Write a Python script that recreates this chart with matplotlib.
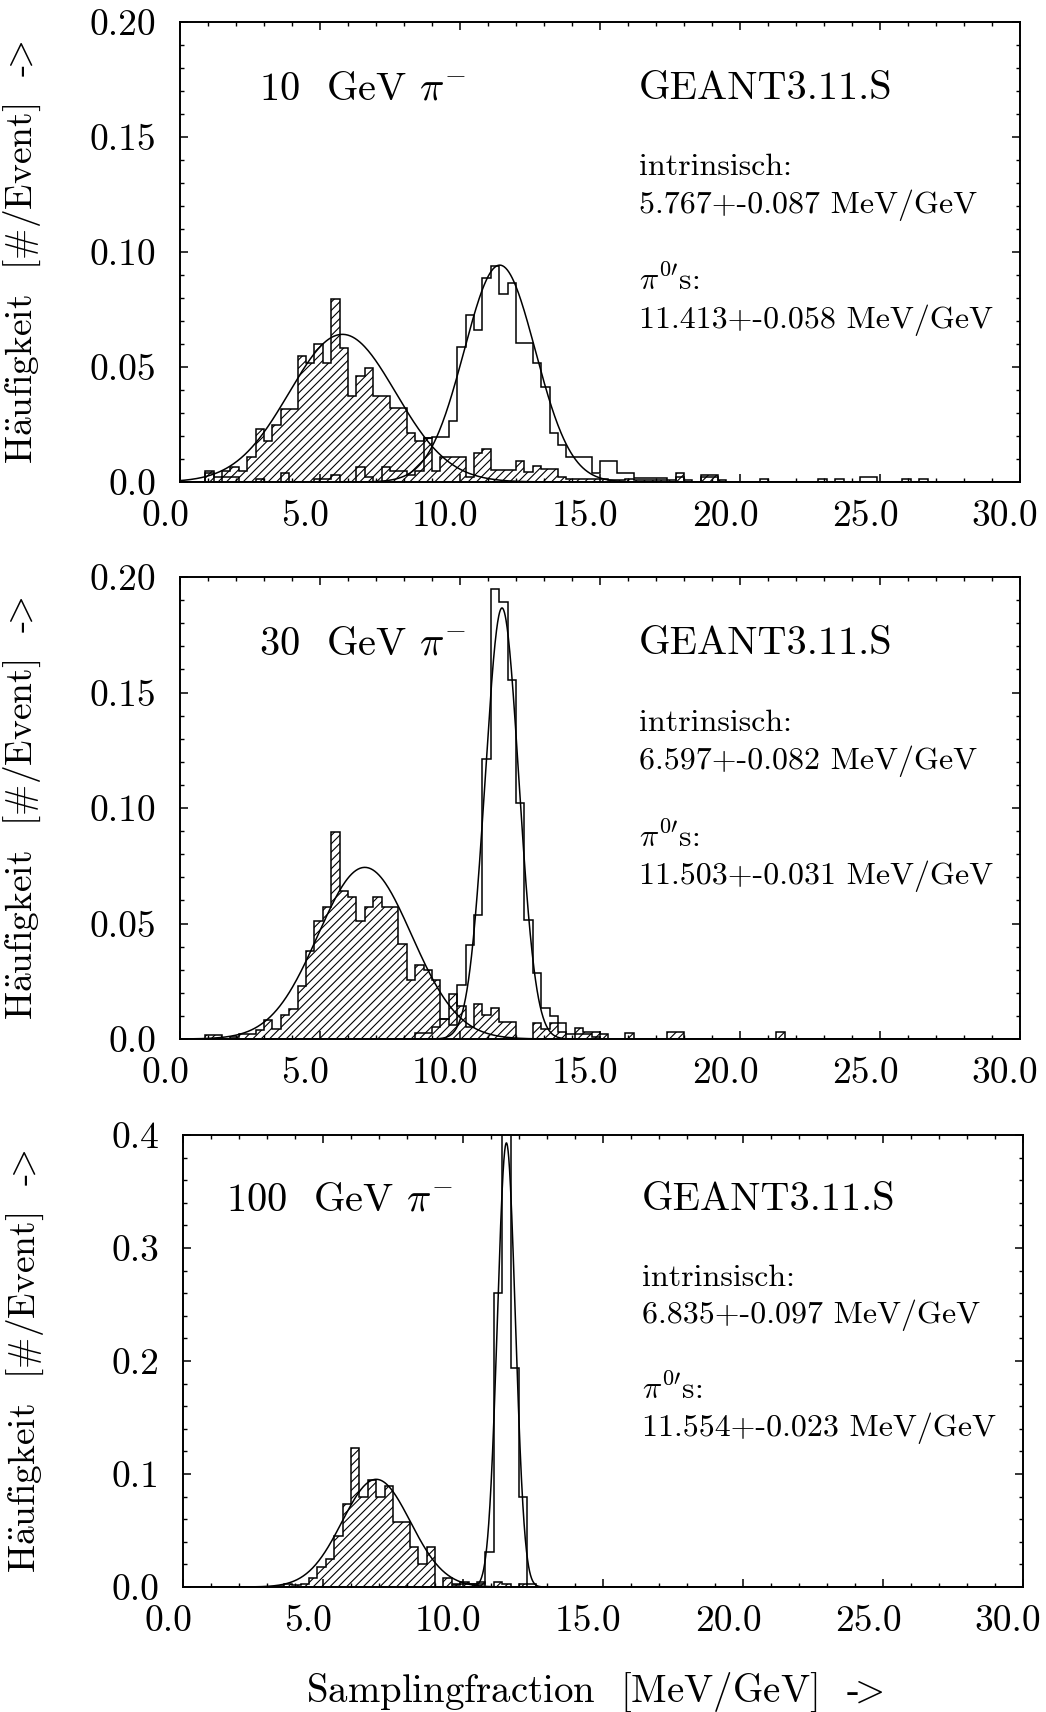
import numpy as np
import matplotlib
matplotlib.use("Agg")
import matplotlib.pyplot as plt
import matplotlib.transforms as mtransforms
from matplotlib.ticker import MultipleLocator, FuncFormatter

plt.rcParams['font.family'] = ['cmr10', 'DejaVu Serif']
plt.rcParams['mathtext.fontset'] = 'cm'
plt.rcParams['axes.formatter.use_mathtext'] = True
plt.rcParams['hatch.linewidth'] = 0.8
plt.rcParams['hatch.color'] = 'black'

# bins: 100 bins of 0.3 MeV/GeV from 0 to 30
bin_edges = np.linspace(0, 30, 101)

# 10 GeV
top_intr = [0, 0, 0, 0.005, 0.0023, 0.005, 0.0067, 0.005, 0.0107, 0.023,
            0.018, 0.0248, 0.0317, 0.0317, 0.055, 0.0516, 0.0599, 0.0516, 0.0796, 0.0584,
            0.0374, 0.046, 0.0497, 0.0374, 0.0374, 0.032, 0.032, 0.0214, 0.0178, 0.019,
            0.005, 0.0107, 0.0107, 0.0107, 0.0023, 0.0125, 0.0142, 0.0052, 0.0052, 0.0052,
            0.0093, 0.0042, 0.0071, 0.0055, 0.0055, 0.0023, 0.0015, 0.0015, 0.0015, 0.0015,
            0.0015, 0.001, 0.001, 0.0015, 0.001, 0.001, 0.001, 0.001, 0.001, 0.004,
            0, 0, 0.003, 0.003, 0.001]
top_pi0 = [0, 0, 0, 0.004, 0, 0.002, 0.002, 0, 0, 0.0015,
           0, 0, 0.0038, 0, 0, 0, 0.0015, 0.0015, 0.003, 0,
           0, 0.0067, 0.002, 0, 0.0067, 0.005, 0.005, 0.003, 0.005, 0.019,
           0.0197, 0.0197, 0.0267, 0.0586, 0.0726, 0.066, 0.0886, 0.0939, 0.0817, 0.0867,
           0.0606, 0.0606, 0.0516, 0.0414, 0.0214, 0.016, 0.011, 0.011, 0.011, 0.0038,
           0.0093, 0.0093, 0.004, 0.004, 0.0016, 0.0016, 0.0016, 0.0016, 0, 0.002,
           0.001, 0, 0.002, 0.002, 0, 0, 0, 0, 0, 0.0015,
           0, 0, 0, 0, 0, 0, 0.0015, 0, 0.0015, 0,
           0, 0.002, 0.002, 0, 0, 0, 0.0015, 0, 0.0015]

# 30 GeV
mid_intr = [0, 0, 0, 0.0019, 0.0019, 0, 0.001, 0.002, 0.002, 0.004,
            0.0084, 0.0045, 0.0105, 0.013, 0.0228, 0.0382, 0.051, 0.0571, 0.0895, 0.0639,
            0.0613, 0.051, 0.0571, 0.0615, 0.0571, 0.0571, 0.0413, 0.0257, 0.0322, 0.03,
            0.0257, 0.0087, 0.0195, 0.0145, 0.005, 0.0153, 0.0105, 0.0134, 0.0072, 0.0072,
            0, 0, 0.007, 0.0045, 0.007, 0.003, 0, 0.0048, 0.003, 0.003,
            0.002, 0, 0, 0.0026, 0, 0, 0, 0, 0.003, 0.003,
            0, 0, 0, 0, 0, 0, 0, 0, 0, 0,
            0, 0.003]
mid_pi0 = [0, 0, 0, 0, 0, 0, 0, 0, 0, 0,
           0, 0, 0, 0, 0, 0, 0, 0, 0, 0,
           0, 0, 0, 0, 0, 0, 0, 0, 0.0025, 0.0025,
           0.005, 0.0087, 0.006, 0.0235, 0.0408, 0.0538, 0.121, 0.195, 0.189, 0.1555,
           0.102, 0.0516, 0.0287, 0.0134, 0.010, 0.0069, 0.002, 0.002, 0.002, 0.001]

# 100 GeV
bot_intr = [0, 0, 0, 0, 0, 0, 0, 0, 0, 0,
            0, 0.001, 0.003, 0.002, 0.003, 0.008, 0.018, 0.0245, 0.0451, 0.0732,
            0.1227, 0.0794, 0.0947, 0.0794, 0.0894, 0.0572, 0.0572, 0.0357, 0.0204, 0.0357,
            0, 0.0083, 0.003, 0.0045, 0.003, 0.0045, 0, 0.0045, 0.003, 0,
            0.003]
bot_pi0 = [0, 0, 0, 0, 0, 0, 0, 0, 0, 0,
           0, 0, 0, 0, 0, 0, 0, 0, 0, 0,
           0, 0, 0, 0, 0, 0, 0, 0, 0, 0,
           0, 0, 0.002, 0.003, 0.003, 0.003, 0.031, 0.26, 0.42, 0.1935,
           0.08, 0.003]

# gaussian fits: (mean, sigma, height)
top_fits = [(5.8, 1.9, 0.0642), (11.42, 1.27, 0.0943)]
mid_fits = [(6.6, 1.67, 0.0743), (11.5, 0.6, 0.1866)]
bot_fits = [(6.9, 1.22, 0.0953), (11.55, 0.32, 0.393)]

energies = ['10', '30', '100']
intr_txt = ['5.767+-0.087 MeV/GeV', '6.597+-0.082 MeV/GeV', '6.835+-0.097 MeV/GeV']
pi0_txt = ['11.413+-0.058 MeV/GeV', '11.503+-0.031 MeV/GeV', '11.554+-0.023 MeV/GeV']

W, H = 1046, 1712
fig = plt.figure(figsize=(W / 100, H / 100), dpi=100)

# axes boxes in pixels: left, top, right, bottom
boxes = [(180, 22, 1020, 482), (180, 577, 1020, 1039), (183, 1135, 1023, 1587)]


def pad(v):
    v = np.array(v, dtype=float)
    return np.pad(v, (0, 100 - len(v)))


panels = [(top_intr, top_pi0, top_fits, 0.2, 0.05, 0.01),
          (mid_intr, mid_pi0, mid_fits, 0.2, 0.05, 0.01),
          (bot_intr, bot_pi0, bot_fits, 0.4, 0.1, 0.02)]

shift = mtransforms.ScaledTranslation(-0.15, 0, fig.dpi_scale_trans)

for i, (hi, hp, fits, ymax, ymaj, ymin) in enumerate(panels):
    l, t, r, b = boxes[i]
    ax = fig.add_axes([l / W, (H - b) / H, (r - l) / W, (b - t) / H])

    ax.stairs(pad(hi), bin_edges, fill=True, facecolor='none', edgecolor='black',
              hatch='////', linewidth=1.1)
    ax.stairs(pad(hp), bin_edges, color='black', linewidth=1.1)
    for mu, sig, h in fits:
        xs = np.linspace(mu - 4.5 * sig, mu + 4.5 * sig, 400)
        ax.plot(xs, h * np.exp(-0.5 * ((xs - mu) / sig) ** 2), color='black', lw=1.1)

    ax.set_xlim(0, 30)
    ax.set_ylim(0, ymax)
    ax.xaxis.set_major_locator(MultipleLocator(5))
    ax.xaxis.set_minor_locator(MultipleLocator(1))
    ax.yaxis.set_major_locator(MultipleLocator(ymaj))
    ax.yaxis.set_minor_locator(MultipleLocator(ymin))
    ax.xaxis.set_major_formatter(FuncFormatter(lambda v, p: f'{v:.1f}'))
    if ymax < 0.3:
        ax.yaxis.set_major_formatter(FuncFormatter(lambda v, p: '0.0' if v == 0 else f'{v:.2f}'))
    else:
        ax.yaxis.set_major_formatter(FuncFormatter(lambda v, p: f'{v:.1f}'))
    ax.tick_params(which='both', direction='in', top=True, right=True, labelsize=27)
    ax.tick_params(which='major', length=6, width=1.1)
    ax.tick_params(which='minor', length=3, width=1.0)
    ax.tick_params(axis='x', pad=13)
    ax.tick_params(axis='y', pad=17)
    for s in ax.spines.values():
        s.set_linewidth(1.4)
    for lab in ax.get_xticklabels():
        lab.set_transform(lab.get_transform() + shift)

    ax.text(0.094 if i < 2 else 0.051, 0.832, energies[i] + r'  GeV $\pi^{-}$',
            transform=ax.transAxes, fontsize=29, va='baseline')
    ax.text(0.546, 0.833, 'GEANT3.11.S', transform=ax.transAxes, fontsize=29, va='baseline')
    ax.text(0.546, 0.667, 'intrinsisch:', transform=ax.transAxes, fontsize=23, va='baseline')
    ax.text(0.546, 0.585, intr_txt[i], transform=ax.transAxes, fontsize=23, va='baseline')
    ax.text(0.546, 0.417, r"$\pi^{0\prime}$s:", transform=ax.transAxes, fontsize=23, va='baseline')
    ax.text(0.546, 0.335, pi0_txt[i], transform=ax.transAxes, fontsize=23, va='baseline')

    ax.text(-0.188, 0.5, r'H$\ddot{\mathrm{a}}$ufigkeit  [#/Event]  -$\!\!>$',
            transform=ax.transAxes, rotation=90, ha='center', va='center', fontsize=27)
    if i == 2:
        ax.text(0.49, -0.255, r'Samplingfraction  [MeV/GeV]  -$\!\!>$', transform=ax.transAxes,
                ha='center', va='baseline', fontsize=28)

fig.savefig('out.png', dpi=100)
